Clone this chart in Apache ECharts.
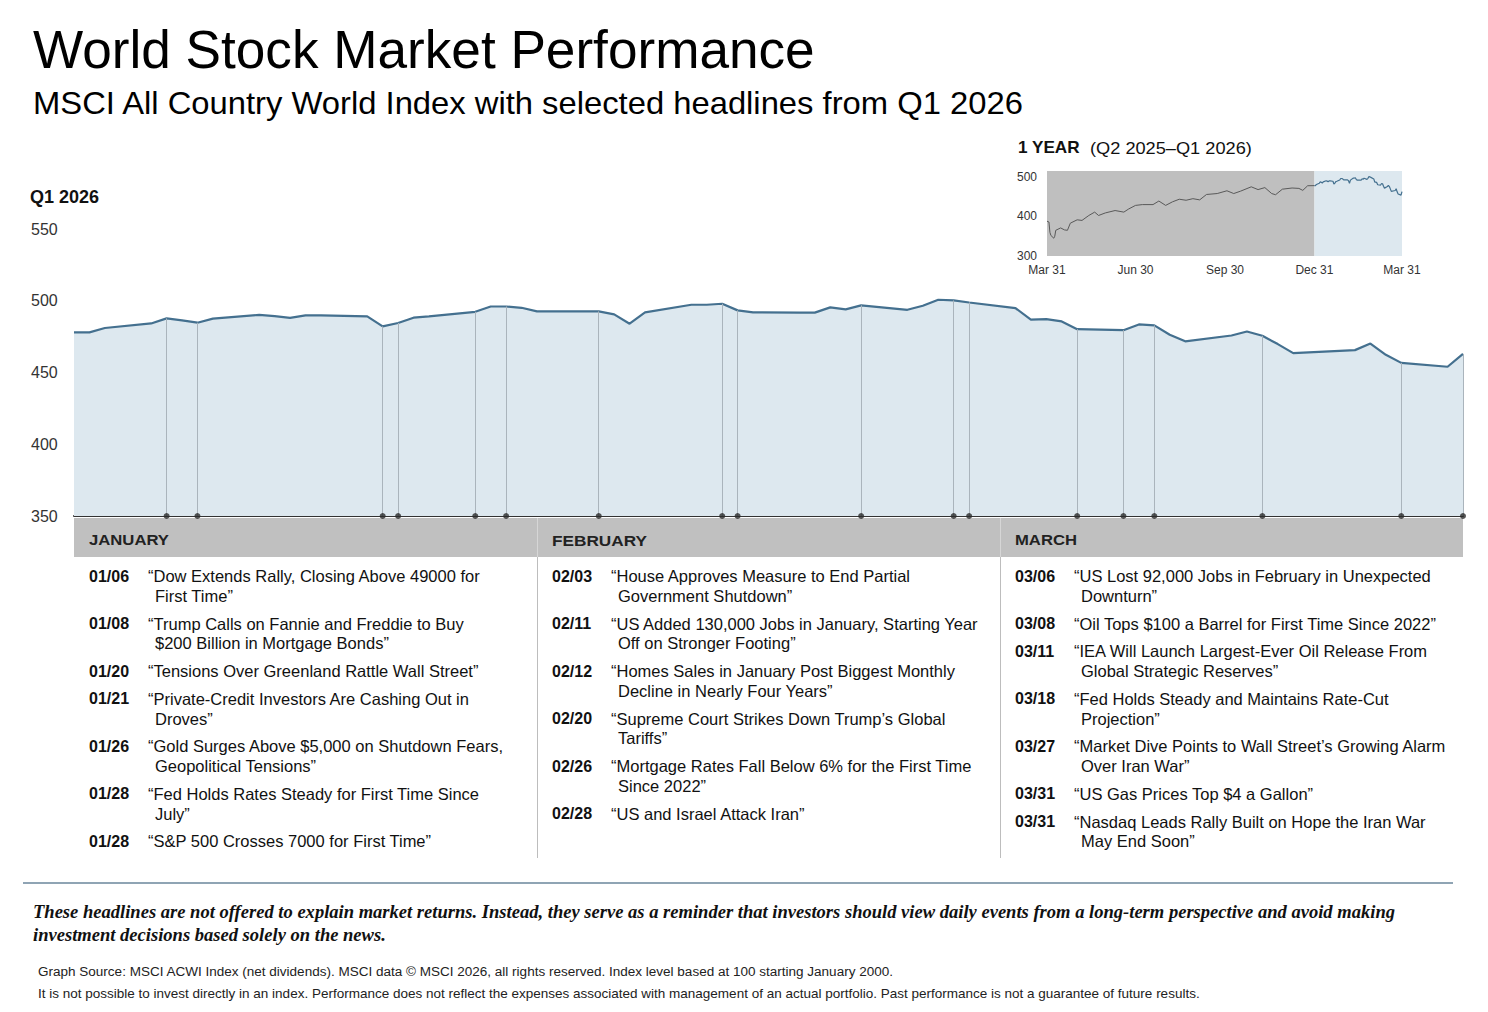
<!DOCTYPE html>
<html>
<head>
<meta charset="utf-8">
<script src="https://cdn.jsdelivr.net/npm/echarts@6/dist/echarts.min.js"></script>
<style>
html,body{margin:0;padding:0;background:#fff;}
#chart{width:1488px;height:1012px;}
</style>
</head>
<body>
<div id="chart"></div>
<script>
// ---------- DATA ----------
const dates = ['2025-12-31','2026-01-01','2026-01-02','2026-01-05','2026-01-06','2026-01-07','2026-01-08','2026-01-09',
 '2026-01-12','2026-01-13','2026-01-14','2026-01-15','2026-01-16','2026-01-19','2026-01-20','2026-01-21','2026-01-22','2026-01-23',
 '2026-01-26','2026-01-27','2026-01-28','2026-01-29','2026-01-30','2026-02-02','2026-02-03','2026-02-04','2026-02-05','2026-02-06',
 '2026-02-09','2026-02-10','2026-02-11','2026-02-12','2026-02-13','2026-02-16','2026-02-17','2026-02-18','2026-02-19','2026-02-20',
 '2026-02-23','2026-02-24','2026-02-25','2026-02-26','2026-02-27','2026-03-02','2026-03-03','2026-03-04','2026-03-05','2026-03-06',
 '2026-03-09','2026-03-10','2026-03-11','2026-03-12','2026-03-13','2026-03-16','2026-03-17','2026-03-18','2026-03-19','2026-03-20',
 '2026-03-23','2026-03-24','2026-03-25','2026-03-26','2026-03-27','2026-03-30','2026-03-31'];
const values = [478,478,481,484.2,487.7,486.3,484.7,487.5,
 490.2,489.3,488.1,489.8,489.8,489.1,482.1,484.5,488.2,489.1,
 492.3,496,496,495.1,492.6,492.6,492.6,490.5,484,491.9,
 497.2,497.2,497.9,493.3,491.9,491.7,491.7,495.4,494,496.8,
 493.7,496.5,500.7,500.2,498.8,494.9,486.8,487.2,485.6,480.2,
 479.5,483.5,482.8,476.3,471.7,475.8,478.6,475.6,469.8,463.5,
 465.1,465.6,470.2,462.3,456.7,454,463];

const insetDates = ['2025-03-31','2025-04-02','2025-04-03','2025-04-04','2025-04-07','2025-04-08','2025-04-09','2025-04-14',
 '2025-04-18','2025-04-21','2025-04-24','2025-05-01','2025-05-06','2025-05-13','2025-05-19','2025-05-23','2025-05-30','2025-06-09',
 '2025-06-18','2025-06-23','2025-06-30','2025-07-07','2025-07-18','2025-07-24','2025-07-31','2025-08-07','2025-08-14','2025-08-21',
 '2025-08-28','2025-09-04','2025-09-11','2025-09-22','2025-10-02','2025-10-09','2025-10-16','2025-10-27','2025-11-03','2025-11-10',
 '2025-11-17','2025-11-21','2025-11-28','2025-12-08','2025-12-15','2025-12-19','2025-12-24','2025-12-31'];
const insetValues = [388,386,360,352,345,350,365,371,
 366,365,383,391.5,390,402.5,411,402.5,409,415,
 411,419,428,430,430,439,428,437,443.6,441,
 445,442,455.6,458,465,458,464,475,468,473,
 458,455,469,472,471,466,477.7,478];

const eventDates = ['2026-01-06','2026-01-08','2026-01-20','2026-01-21','2026-01-26','2026-01-28',
 '2026-02-03','2026-02-11','2026-02-12','2026-02-20','2026-02-26','2026-02-27',
 '2026-03-06','2026-03-09','2026-03-11','2026-03-18','2026-03-27','2026-03-31'];

const insetTickDates = ['2025-03-31','2025-06-30','2025-09-30','2025-12-31','2026-03-31'];
const insetTickLabels = ['Mar 31','Jun 30','Sep 30','Dec 31','Mar 31'];
const insetYTicks = [300,400,500];

const monthNames = ['JANUARY','FEBRUARY','MARCH'];
const janHeadlines = [
 ['01/06', ['“Dow Extends Rally, Closing Above 49000 for', 'First Time”']],
 ['01/08', ['“Trump Calls on Fannie and Freddie to Buy', '$200 Billion in Mortgage Bonds”']],
 ['01/20', ['“Tensions Over Greenland Rattle Wall Street”']],
 ['01/21', ['“Private-Credit Investors Are Cashing Out in', 'Droves”']],
 ['01/26', ['“Gold Surges Above $5,000 on Shutdown Fears,', 'Geopolitical Tensions”']],
 ['01/28', ['“Fed Holds Rates Steady for First Time Since', 'July”']],
 ['01/28', ['“S&P 500 Crosses 7000 for First Time”']]
];
const febHeadlines = [
 ['02/03', ['“House Approves Measure to End Partial', 'Government Shutdown”']],
 ['02/11', ['“US Added 130,000 Jobs in January, Starting Year', 'Off on Stronger Footing”']],
 ['02/12', ['“Homes Sales in January Post Biggest Monthly', 'Decline in Nearly Four Years”']],
 ['02/20', ['“Supreme Court Strikes Down Trump’s Global', 'Tariffs”']],
 ['02/26', ['“Mortgage Rates Fall Below 6% for the First Time', 'Since 2022”']],
 ['02/28', ['“US and Israel Attack Iran”']]
];
const marHeadlines = [
 ['03/06', ['“US Lost 92,000 Jobs in February in Unexpected', 'Downturn”']],
 ['03/08', ['“Oil Tops $100 a Barrel for First Time Since 2022”']],
 ['03/11', ['“IEA Will Launch Largest-Ever Oil Release From', 'Global Strategic Reserves”']],
 ['03/18', ['“Fed Holds Steady and Maintains Rate-Cut', 'Projection”']],
 ['03/27', ['“Market Dive Points to Wall Street’s Growing Alarm', 'Over Iran War”']],
 ['03/31', ['“US Gas Prices Top $4 a Gallon”']],
 ['03/31', ['“Nasdaq Leads Rally Built on Hope the Iran War', 'May End Soon”']]
];

const titleText = 'World Stock Market Performance';
const subtitleText = 'MSCI All Country World Index with selected headlines from Q1 2026';
const periodLabel = 'Q1 2026';
const insetTitleBold = '1 YEAR';
const insetTitleRest = '(Q2 2025–Q1 2026)';
const disclaimer = ['These headlines are not offered to explain market returns. Instead, they serve as a reminder that investors should view daily events from a long-term perspective and avoid making',
 'investment decisions based solely on the news.'];
const sources = ['Graph Source: MSCI ACWI Index (net dividends). MSCI data © MSCI 2026, all rights reserved. Index level based at 100 starting January 2000.',
 'It is not possible to invest directly in an index. Performance does not reflect the expenses associated with management of an actual portfolio. Past performance is not a guarantee of future results.'];

// ---------- HELPERS ----------
function ts(s){ const p = s.split('-').map(Number); return new Date(p[0], p[1]-1, p[2]).getTime(); }
const mainData = dates.map((d,i)=>[ts(d), values[i]]);
const insetData = insetDates.map((d,i)=>[ts(d), insetValues[i]]);
const valByDate = {}; dates.forEach((d,i)=>{ valByDate[d] = values[i]; });

const mctx = document.createElement('canvas').getContext('2d');
function fitScale(text, font, width){ mctx.font = font; return width / mctx.measureText(text).width; }

const SANS = '"Liberation Sans", Arial, Helvetica, sans-serif';
const SERIF = '"Liberation Serif", "Times New Roman", serif';

const graphics = [];
function txt(x, y, text, font, fill, opts){
  opts = opts || {};
  const el = { type:'text', x:x, y:y, silent:true,
    style:{ x:0, y:0, text:text, font:font, fill:fill||'#111', verticalAlign:'middle', align:opts.align||'left' } };
  if (opts.scaleX) el.scaleX = opts.scaleX;
  graphics.push(el);
}

// Title & subtitle
const titleFont = '53px ' + SANS;
txt(33, 50, titleText, titleFont, '#000', {scaleX: fitScale(titleText, titleFont, 782)});
const subFont = '32px ' + SANS;
txt(33, 103, subtitleText, subFont, '#000', {scaleX: fitScale(subtitleText, subFont, 992)});
txt(30, 197, periodLabel, 'bold 18px ' + SANS, '#111');
txt(1018, 148, insetTitleBold, 'bold 16px ' + SANS, '#111', {scaleX: fitScale(insetTitleBold, 'bold 16px ' + SANS, 62)});
txt(1090, 148, insetTitleRest, '16px ' + SANS, '#111', {scaleX: fitScale(insetTitleRest, '16px ' + SANS, 162)});

// Month header bar
graphics.push({type:'rect', silent:true, shape:{x:74, y:518, width:1389, height:39}, style:{fill:'#c0c0c0'}});
const colX = [89, 552, 1015];
const sepX = [537, 1000];
const monthWidths = [80, 95, 62];
sepX.forEach(x=>{
  graphics.push({type:'line', silent:true, shape:{x1:x+0.5, y1:518, x2:x+0.5, y2:557}, style:{stroke:'#d6d6d6', lineWidth:1}});
  graphics.push({type:'line', silent:true, shape:{x1:x+0.5, y1:557, x2:x+0.5, y2:858}, style:{stroke:'#bdbdbd', lineWidth:1}});
});
monthNames.forEach((m,i)=>{
  const f = 'bold 15px ' + SANS;
  txt(colX[i], 540, m, f, '#222', {scaleX: fitScale(m, f, monthWidths[i])});
});

// Headlines
const LINE_H = 19.6, GAP = 8.3;
[janHeadlines, febHeadlines, marHeadlines].forEach((list, ci)=>{
  let y = 576;
  const dx = colX[ci];
  list.forEach(item=>{
    txt(dx, y, item[0], 'bold 16px ' + SANS, '#111');
    item[1].forEach((line, li)=>{
      txt(dx + (li === 0 ? 59 : 66), y + li*LINE_H, line, '16.5px ' + SANS, '#111');
    });
    y += item[1].length * LINE_H + GAP;
  });
});

// Footer
graphics.push({type:'line', silent:true, shape:{x1:23, y1:883, x2:1453, y2:883}, style:{stroke:'#8fa4b4', lineWidth:2}});
const discFont = 'italic bold 18px ' + SERIF;
const discScale = fitScale(disclaimer[0], discFont, 1363);
txt(33, 912, disclaimer[0], discFont, '#111', {scaleX: discScale});
txt(33, 935, disclaimer[1], discFont, '#111', {scaleX: discScale});
const srcFont = '13.5px ' + SANS;
txt(38, 972, sources[0], srcFont, '#222', {scaleX: fitScale(sources[0], srcFont, 857)});
txt(38, 993, sources[1], srcFont, '#222', {scaleX: fitScale(sources[1], srcFont, 1162)});

// ---------- CHART ----------
const chart = echarts.init(document.getElementById('chart'), null, {renderer:'svg', width:1488, height:1012});

const eventLines = eventDates.map(d=>({coords:[[ts(d),350],[ts(d),valByDate[d]]]}));
const eventDots = eventDates.map(d=>[ts(d),350]);

chart.setOption({
  animation:false,
  backgroundColor:'#fff',
  textStyle:{fontFamily:SANS},
  grid:[
    {left:74, right:25, top:229, bottom:496},
    {left:1047, right:86, top:171, bottom:756}
  ],
  xAxis:[
    {type:'time', gridIndex:0, min:ts('2025-12-31'), max:ts('2026-03-31'),
     axisLine:{show:true, lineStyle:{color:'#333', width:2}}, axisTick:{show:false},
     axisLabel:{show:false}, splitLine:{show:false}},
    {type:'time', gridIndex:1, min:ts('2025-03-31'), max:ts('2026-03-31'),
     axisLine:{show:false}, axisTick:{show:false}, splitLine:{show:false}, axisLabel:{show:false}}
  ],
  yAxis:[
    {type:'value', gridIndex:0, min:350, max:550, interval:50,
     axisLine:{show:false}, axisTick:{show:false}, splitLine:{show:false},
     axisLabel:{color:'#333', fontSize:16, align:'left', margin:43}},
    {type:'value', gridIndex:1, min:300, max:515,
     axisLine:{show:false}, axisTick:{show:false}, splitLine:{show:false},
     axisLabel:{color:'#333', fontSize:12, margin:10, customValues: insetYTicks}}
  ],
  series:[
    {type:'line', xAxisIndex:0, yAxisIndex:0, data:mainData, showSymbol:false, z:2,
     lineStyle:{color:'#44708f', width:2.2}, areaStyle:{color:'#dde8ef', opacity:1}},
    {type:'lines', coordinateSystem:'cartesian2d', xAxisIndex:0, yAxisIndex:0, data:eventLines, z:3,
     lineStyle:{color:'#aab4bc', width:1, opacity:1}},
    {type:'scatter', xAxisIndex:0, yAxisIndex:0, data:eventDots, symbolSize:6, z:10, clip:false,
     itemStyle:{color:'#2a2a2a'}},
    {type:'line', xAxisIndex:1, yAxisIndex:1, data:insetData, showSymbol:false, z:3,
     lineStyle:{color:'#595959', width:1},
     markArea:{silent:true, z:1, data:[
       [{xAxis:ts('2025-03-31'), itemStyle:{color:'#bfbfbf'}},{xAxis:ts('2025-12-31')}],
       [{xAxis:ts('2025-12-31'), itemStyle:{color:'#dde8ef'}},{xAxis:ts('2026-03-31')}]
     ]}},
    {type:'line', xAxisIndex:1, yAxisIndex:1, data:mainData, showSymbol:false, z:3,
     lineStyle:{color:'#44708f', width:1.2}}
  ],
  graphic: graphics
});

// Inset x-axis labels placed through the inset axis scale
const insetLabelEls = insetTickDates.map((d,i)=>{
  const px = chart.convertToPixel({xAxisIndex:1}, ts(d));
  return {type:'text', x:px, y:270, silent:true,
    style:{x:0,y:0,text:insetTickLabels[i], font:'12px ' + SANS, fill:'#333', align:'center', verticalAlign:'middle'}};
});
chart.setOption({graphic: graphics.concat(insetLabelEls)});
</script>
</body>
</html>
